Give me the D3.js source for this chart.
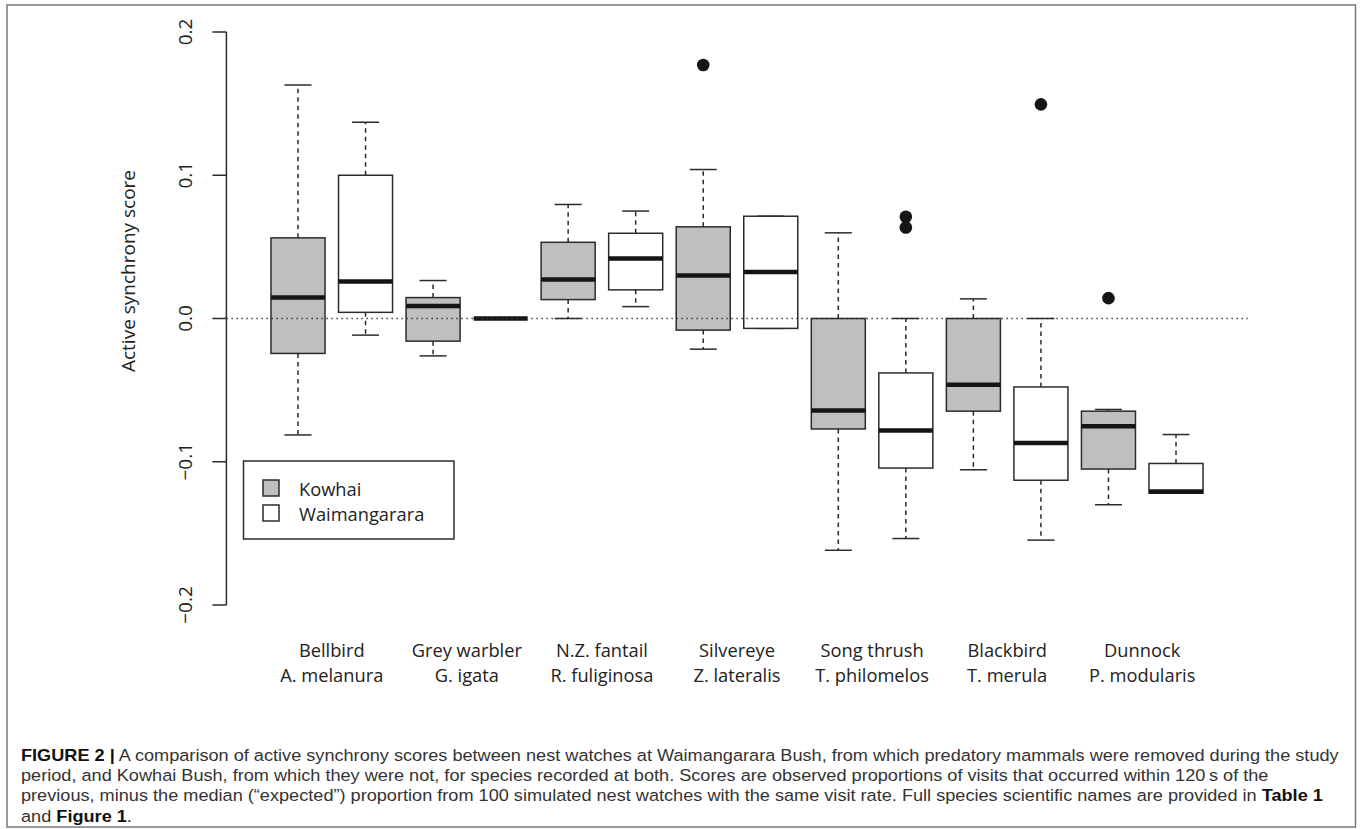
<!DOCTYPE html>
<html>
<head>
<meta charset="utf-8">
<script src="https://cdn.jsdelivr.net/npm/d3@7"></script>
<style>
  html, body { margin: 0; padding: 0; background: #fff; }
  svg { display: block; }
</style>
</head>
<body>
<svg id="chart" width="1362" height="829"></svg>
<script>
// ---------------- DATA ----------------
const categories = ["Bellbird", "Grey warbler", "N.Z. fantail", "Silvereye", "Song thrush", "Blackbird", "Dunnock"];
const sciNames   = ["A. melanura", "G. igata", "R. fuliginosa", "Z. lateralis", "T. philomelos", "T. merula", "P. modularis"];
const sites      = ["Kowhai", "Waimangarara"];
const siteFills  = ["#bfbfbf", "#ffffff"];

// five-number summaries: [lower whisker, Q1, median, Q3, upper whisker]
const kowhaiBoxes = [
  [-0.0813, -0.0244, 0.0146, 0.0563, 0.1630],
  [-0.0261, -0.0158, 0.0088, 0.0146, 0.0265],
  [ 0.0000,  0.0132, 0.0272, 0.0532, 0.0796],
  [-0.0214, -0.0081, 0.0300, 0.0640, 0.1040],
  [-0.1618, -0.0771, -0.0642, 0.0000, 0.0598],
  [-0.1056, -0.0647, -0.0462, 0.0000, 0.0137],
  [-0.1300, -0.1051, -0.0752, -0.0647, -0.0635]
];
const waimangararaBoxes = [
  [-0.0116, 0.0043, 0.0258, 0.1000, 0.1370],
  [ 0.0000, 0.0000, 0.0000, 0.0000, 0.0000],
  [ 0.0083, 0.0200, 0.0418, 0.0595, 0.0750],
  [-0.0069, -0.0069, 0.0324, 0.0714, 0.0714],
  [-0.1536, -0.1044, -0.0782, -0.0380, 0.0000],
  [-0.1547, -0.1129, -0.0869, -0.0478, 0.0000],
  [-0.1220, -0.1220, -0.1208, -0.1012, -0.0810]
];
const kowhaiOutliers       = [[], [], [], [0.177], [], [], [0.0142]];
const waimangararaOutliers = [[], [], [], [], [0.0710, 0.0635], [0.1495], []];

const yTicks = [-0.2, -0.1, 0.0, 0.1, 0.2];
const yTitle = "Active synchrony score";

// ---------------- LAYOUT ----------------
const svg = d3.select("#chart");
const chartFont = "'Open Sans', 'Noto Sans', sans-serif";
const ink = "#2b2b2b";

// boxes at positions 1..14
const x = d3.scaleLinear().domain([-0.06, 15.06]).range([226.4, 1247.6]);
const y = d3.scaleLinear().domain([-0.2, 0.2]).range([605, 32]);

const boxHalf = 0.4, capHalf = 0.2;

const boxes = [];
categories.forEach((c, i) => {
  [kowhaiBoxes, waimangararaBoxes].forEach((arr, s) => {
    const st = arr[i];
    boxes.push({
      pos: i * 2 + s + 1, site: s,
      lo: st[0], q1: st[1], med: st[2], q3: st[3], hi: st[4],
      out: (s === 0 ? kowhaiOutliers : waimangararaOutliers)[i]
    });
  });
});

const g = svg.append("g");

// outer frame
svg.append("rect").attr("x", 7).attr("y", 5).attr("width", 1348.5).attr("height", 822)
  .attr("fill", "none").attr("stroke", "#7a7a7a").attr("stroke-width", 1.5);

// y axis
const yAxisG = g.append("g").attr("transform", "translate(226.4,0)");
yAxisG.append("line").attr("x1", 0).attr("x2", 0)
  .attr("y1", y(yTicks[0])).attr("y2", y(yTicks[yTicks.length - 1]))
  .attr("stroke", ink).attr("stroke-width", 1.5);
yAxisG.selectAll("line.tick").data(yTicks).join("line").attr("class", "tick")
  .attr("x1", -14).attr("x2", 0).attr("y1", d => y(d)).attr("y2", d => y(d))
  .attr("stroke", ink).attr("stroke-width", 1.5);
yAxisG.selectAll("text.tl").data(yTicks).join("text").attr("class", "tl")
  .attr("transform", d => `translate(-34,${y(d)}) rotate(-90)`)
  .attr("text-anchor", "middle")
  .attr("font-family", chartFont).attr("font-size", 19).attr("fill", "#222")
  .text(d => d3.format(".1f")(d).replace("-", "\u2212"));

// y title
g.append("text").attr("transform", "translate(135,271) rotate(-90)")
  .attr("text-anchor", "middle").attr("font-family", chartFont).attr("font-size", 19)
  .attr("fill", "#222").text(yTitle);

// boxes
const bg = g.append("g").selectAll("g.box").data(boxes).join("g").attr("class", "box");
bg.append("line").attr("x1", d => x(d.pos)).attr("x2", d => x(d.pos))
  .attr("y1", d => y(d.q3)).attr("y2", d => y(d.hi))
  .attr("stroke", ink).attr("stroke-width", 1.5).attr("stroke-dasharray", "4.5,4");
bg.append("line").attr("x1", d => x(d.pos)).attr("x2", d => x(d.pos))
  .attr("y1", d => y(d.q1)).attr("y2", d => y(d.lo))
  .attr("stroke", ink).attr("stroke-width", 1.5).attr("stroke-dasharray", "4.5,4");
bg.append("line").attr("x1", d => x(d.pos - capHalf)).attr("x2", d => x(d.pos + capHalf))
  .attr("y1", d => y(d.hi)).attr("y2", d => y(d.hi))
  .attr("stroke", ink).attr("stroke-width", 1.5);
bg.append("line").attr("x1", d => x(d.pos - capHalf)).attr("x2", d => x(d.pos + capHalf))
  .attr("y1", d => y(d.lo)).attr("y2", d => y(d.lo))
  .attr("stroke", ink).attr("stroke-width", 1.5);
bg.append("rect").attr("x", d => x(d.pos - boxHalf)).attr("width", d => x(d.pos + boxHalf) - x(d.pos - boxHalf))
  .attr("y", d => y(d.q3)).attr("height", d => y(d.q1) - y(d.q3))
  .attr("fill", d => siteFills[d.site]).attr("stroke", ink).attr("stroke-width", 1.5);
bg.append("line").attr("x1", d => x(d.pos - boxHalf)).attr("x2", d => x(d.pos + boxHalf))
  .attr("y1", d => y(d.med)).attr("y2", d => y(d.med))
  .attr("stroke", "#151515").attr("stroke-width", 4.5);
bg.each(function(d) {
  d3.select(this).selectAll("circle").data(d.out).join("circle")
    .attr("cx", x(d.pos)).attr("cy", v => y(v)).attr("r", 6.3).attr("fill", "#151515");
});

// zero reference line
g.append("line").attr("x1", x.range()[0]).attr("x2", x.range()[1])
  .attr("y1", y(0)).attr("y2", y(0))
  .attr("stroke", "#333").attr("stroke-width", 1.4).attr("stroke-dasharray", "1.4,3.6");

// x labels (two lines per species)
const xl = g.append("g");
categories.forEach((c, i) => {
  const cx = x(i * 2 + 1.5);
  xl.append("text").attr("x", cx).attr("y", 656.5).attr("text-anchor", "middle")
    .attr("font-family", chartFont).attr("font-size", 18.3).attr("fill", "#222").text(c);
  xl.append("text").attr("x", cx).attr("y", 681.5).attr("text-anchor", "middle")
    .attr("font-family", chartFont).attr("font-size", 18.3).attr("fill", "#222").text(sciNames[i]);
});

// legend
const lg = g.append("g");
lg.append("rect").attr("x", 243.5).attr("y", 461).attr("width", 210.5).attr("height", 78)
  .attr("fill", "#fff").attr("stroke", ink).attr("stroke-width", 1.5);
sites.forEach((s, i) => {
  const cy = 488 + i * 25;
  lg.append("rect").attr("x", 263).attr("y", cy - 8).attr("width", 16).attr("height", 16)
    .attr("fill", siteFills[i]).attr("stroke", ink).attr("stroke-width", 1.5);
  lg.append("text").attr("x", 299).attr("y", cy + 7.5).attr("font-family", chartFont)
    .attr("font-size", 18.3).attr("fill", "#222").text(s);
});

// caption
const captionLines = [
  [["FIGURE 2 |", true], [" A comparison of active synchrony scores between nest watches at Waimangarara Bush, from which predatory mammals were removed during the study", false]],
  [["period, and Kowhai Bush, from which they were not, for species recorded at both. Scores are observed proportions of visits that occurred within 120\u2009s of the", false]],
  [["previous, minus the median (\u201cexpected\u201d) proportion from 100 simulated nest watches with the same visit rate. Full species scientific names are provided in ", false], ["Table 1", true]],
  [["and ", false], ["Figure 1", true], [".", false]]
];
const capFont = "'Liberation Sans', Arial, sans-serif";
const capG = svg.append("g");
const capTexts = captionLines.map((parts, li) => {
  const t = capG.append("text").attr("x", 0).attr("y", 0)
    .attr("font-family", capFont).attr("font-size", 16.5).attr("fill", "#333");
  parts.forEach(([txt, bold]) => {
    t.append("tspan").attr("font-weight", bold ? "bold" : "normal").attr("fill", bold ? "#111" : "#333").text(txt);
  });
  return t;
});
const w0 = capTexts[0].node().getComputedTextLength();
const sx = (1340 - 21) / w0;
capTexts.forEach((t, li) => {
  t.attr("transform", `translate(21,${761 + li * 20.2}) scale(${sx},1)`);
});
</script>
</body>
</html>
